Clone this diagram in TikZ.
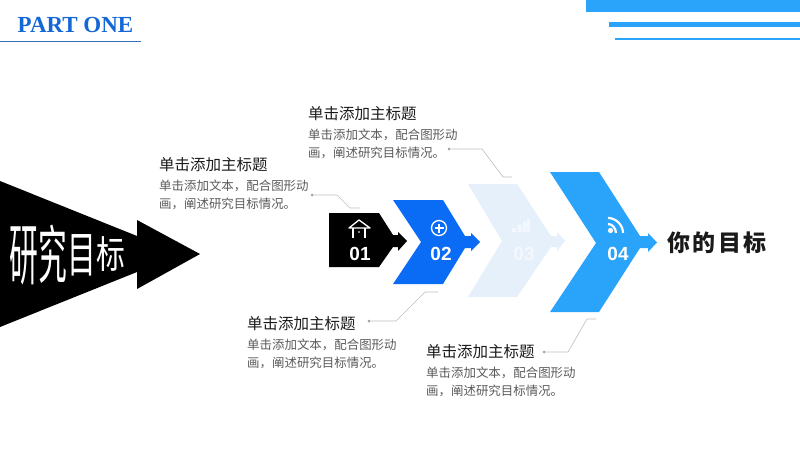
\documentclass[tikz,border=0pt]{standalone}
\usepackage{fontspec}
\usepackage{graphicx}
\setmainfont{Noto Sans CJK SC}
\newfontfamily\serifbold[BoldFont={Liberation Serif Bold}]{Liberation Serif}
\newfontfamily\numfont{Liberation Sans}
\newcommand{\bigch}[3]{\raisebox{#3pt}{\scalebox{.72}[#2]{#1}}}
\definecolor{skyb}{HTML}{2AA3FB}
\definecolor{royb}{HTML}{0A6CF5}
\definecolor{pale}{HTML}{E6F0FB}
\definecolor{palew}{HTML}{F4F8FE}
\definecolor{heading}{HTML}{1A1A1A}
\definecolor{bodyt}{HTML}{5A5A5A}
\definecolor{leader}{HTML}{BDBDBD}
\definecolor{partb}{HTML}{1467D6}
\tikzset{
  x=1pt,y=-1pt,
  headt/.style={anchor=west,inner sep=0pt,text=heading,font=\fontsize{15.5}{18}\selectfont},
  bodytxt/.style={anchor=north west,inner sep=0pt,align=left,text=bodyt,font=\fontsize{12.45}{18.4}\selectfont},
  leadline/.style={draw=leader,line width=.6pt},
  leaddot/.style={circle,fill=leader!85!black,inner sep=0pt,minimum size=3pt},
  num/.style={inner sep=0pt,text=white,font=\numfont\bfseries\fontsize{19}{20}\selectfont},
  iconw/.style={draw=white,line width=1.3pt,line join=round}
}
\begin{document}
\begin{tikzpicture}
\useasboundingbox (0,0) rectangle (800,450);
% header
\node[inner sep=0pt,text=partb,font=\serifbold\bfseries\fontsize{23}{25}\selectfont] (part) at (75.5,25) {PART ONE};
\coordinate (ul) at (0,41); \coordinate (ur) at (141,41);
\draw[draw=partb!70!gray,line width=.8pt] (ul) -- (ur);
\fill[skyb] (586,0) rectangle (800,12);
\fill[skyb] (609,22) rectangle (800,27);
\fill[skyb] (615,38) rectangle (800,40.3);
% big arrow
\fill[black] (0,181) -- (137,236) -- (137,220) -- (200,254) -- (137,289) -- (137,272) -- (0,327) -- cycle;
\node[anchor=base,inner sep=0pt,text=white,font=\fontsize{40}{40}\selectfont] (title) at (67.5,254)
  {\bigch{研}{1.68}{-25.5}\bigch{究}{1.58}{-24}\bigch{目}{1.22}{-18.5}\bigch{标}{.95}{-14.4}};
% chevrons
\fill[pale] (468,184) -- (517,184) -- (551,236) -- (557,236) -- (557,232) -- (565,241) -- (557,251) -- (557,247) -- (551,247) -- (517,297) -- (468,297) -- (502,241) -- cycle;
\fill[skyb] (550,172) -- (599,172) -- (640,236) -- (648,236) -- (648,233) -- (657,242.5) -- (648,252) -- (648,248) -- (640,248) -- (599,312) -- (550,312) -- (596,243) -- cycle;
\fill[royb] (393,200) -- (443,200) -- (465,236) -- (471,236) -- (471,233) -- (480,242) -- (471,251) -- (471,248) -- (465,248) -- (443,284) -- (393,284) -- (421,242) -- cycle;
\fill[black] (329,213) -- (379,213) -- (393,235) -- (398,235) -- (398,232) -- (407,241) -- (398,251) -- (398,247) -- (393,247) -- (379,267) -- (329,267) -- cycle;
% numbers
\node[num] (n1) at (360,254) {01};
\node[num] (n2) at (441,254) {02};
\node[num,text=palew] (n3) at (524,254) {03};
\node[num] (n4) at (618,254) {04};
% house icon
\draw[iconw] (349,228) -- (359,220) -- (370,228) -- cycle;
\draw[iconw] (353,228) -- (353,238) (365,228) -- (365,238);
\fill[white] (359,232) circle (.9);
% plus icon
\draw[white,line width=1.3pt] (439,228) circle (7.5);
\draw[white,line width=1.3pt] (434.5,228) -- (443.5,228) (439,223.5) -- (439,232.5);
% bars icon
\fill[palew] (512,228) rectangle (516,232) (517.5,225) rectangle (521.5,232) (523,221.5) rectangle (526,232) (526.8,219) rectangle (530,232);
% wifi icon
\fill[white] (610.5,230.5) circle (2.6);
\draw[white,line width=2.2pt] (608,224) .. controls (612,224) and (616,228) .. (616,233);
\draw[white,line width=2.2pt] (608,218) .. controls (616,218) and (623,225) .. (623,233);
% goal
\node[anchor=west,inner sep=0pt,text=heading,font=\bfseries\fontsize{23}{25}\selectfont] (goal) at (667,243) {你\hspace{2.5pt}的\hspace{2.5pt}目\hspace{2.5pt}标};
% text blocks
\node[headt] (h1) at (159,165) {单击添加主标题};
\node[bodytxt] (b1) at (159,179.5) {单击添加文本，配合图形动\\画，阐述研究目标情况。};
\node[headt] (h2) at (308,114) {单击添加主标题};
\node[bodytxt] (b2) at (308,128.5) {单击添加文本，配合图形动\\画，阐述研究目标情况。};
\node[headt] (h3) at (247,324) {单击添加主标题};
\node[bodytxt] (b3) at (247,338.5) {单击添加文本，配合图形动\\画，阐述研究目标情况。};
\node[headt] (h4) at (426,352) {单击添加主标题};
\node[bodytxt] (b4) at (426,366.5) {单击添加文本，配合图形动\\画，阐述研究目标情况。};
% leaders
\node[leaddot] (d1) at (312,195) {};
\coordinate (e1a) at (337,195); \coordinate (e1b) at (350,208); \coordinate (e1c) at (360,208);
\draw[leadline] (d1) -- (e1a) -- (e1b) -- (e1c);
\node[leaddot] (d2) at (449,149) {};
\coordinate (e2a) at (482,149); \coordinate (e2b) at (503,177); \coordinate (e2c) at (512,177);
\draw[leadline] (d2) -- (e2a) -- (e2b) -- (e2c);
\node[leaddot] (d3) at (369,321) {};
\coordinate (e3a) at (396,321); \coordinate (e3b) at (425,292); \coordinate (e3c) at (438,292);
\draw[leadline] (d3) -- (e3a) -- (e3b) -- (e3c);
\node[leaddot] (d4) at (544,352) {};
\coordinate (e4a) at (568,352); \coordinate (e4b) at (587,319); \coordinate (e4c) at (596,319);
\draw[leadline] (d4) -- (e4a) -- (e4b) -- (e4c);
\end{tikzpicture}
\end{document}
